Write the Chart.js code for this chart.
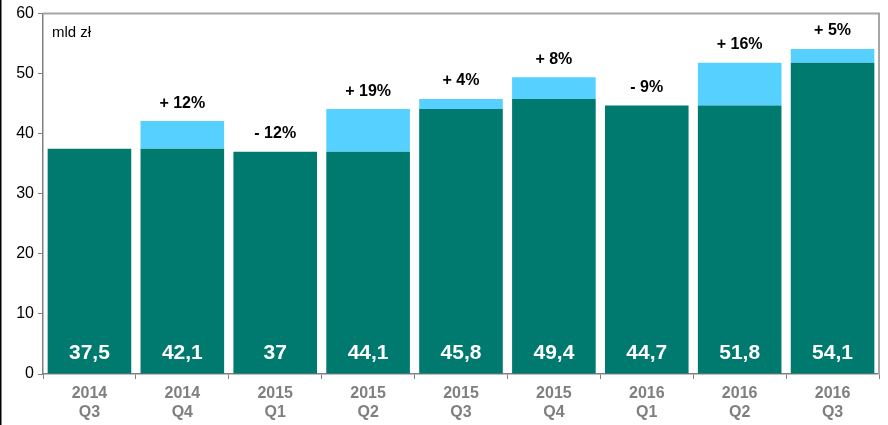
<!DOCTYPE html>
<html lang="pl">
<head>
  <meta charset="UTF-8">
  <title>mld zł</title>
  <script src="https://cdn.jsdelivr.net/npm/chart.js"></script>
  <style>
    body {
      margin: 0;
      background: #fff;
    }
    #wrap {
      width: 888px;
      height: 425px;
    }
  </style>
</head>
<body>
<div id="wrap"><canvas id="chart"></canvas></div>

<script>
  const labels = [['2014', 'Q3'], ['2014', 'Q4'], ['2015', 'Q1'], ['2015', 'Q2'], ['2015', 'Q3'],
                  ['2015', 'Q4'], ['2016', 'Q1'], ['2016', 'Q2'], ['2016', 'Q3']];
  const totals = [37.5, 42.1, 37, 44.1, 45.8, 49.4, 44.7, 51.8, 54.1];
  const changes = ['', '+ 12%', '- 12%', '+ 19%', '+ 4%', '+ 8%', '- 9%', '+ 16%', '+ 5%'];
  const yTicks = [0, 10, 20, 30, 40, 50, 60];

  // teal part = previous quarter (or current if it fell), blue part = growth
  const base = totals.map((v, i) => i === 0 ? v : Math.min(v, totals[i - 1]));
  const growth = totals.map((v, i) => +(v - base[i]).toFixed(1));

  const font = "'Liberation Sans', Arial, sans-serif";

  const labelPlugin = {
    id: 'labels',
    afterDatasetsDraw(chart) {
      const { ctx, chartArea, scales } = chart;
      const x = scales.x, y = scales.y;
      ctx.save();
      // frame
      ctx.strokeStyle = '#a6a6a6';
      ctx.lineWidth = 2;
      ctx.beginPath();
      ctx.moveTo(chartArea.left, chartArea.top);
      ctx.lineTo(chartArea.right, chartArea.top);
      ctx.lineTo(chartArea.right, chartArea.bottom);
      ctx.stroke();

      // dark edge on the left of the picture
      ctx.fillStyle = '#000';
      ctx.fillRect(0, 0, 1.5, chart.height);

      ctx.font = '15px ' + font;
      ctx.textAlign = 'left';
      ctx.textBaseline = 'middle';
      ctx.fillText('mld zł', chartArea.left + 9, 33);

      ctx.textAlign = 'center';
      totals.forEach((v, i) => {
        const cx = x.getPixelForValue(i);
        ctx.fillStyle = '#fff';
        ctx.font = 'bold 21px ' + font;
        ctx.fillText(String(v).replace('.', ','), cx, y.getPixelForValue(0) - 21);
        if (changes[i]) {
          ctx.fillStyle = '#000';
          ctx.font = 'bold 16px ' + font;
          ctx.fillText(changes[i], cx, y.getPixelForValue(v) - 18);
        }
      });
      ctx.restore();
    }
  };

  new Chart(document.getElementById('chart'), {
    type: 'bar',
    data: {
      labels: labels,
      datasets: [
        { data: base, backgroundColor: '#00796e', barPercentage: 0.9, categoryPercentage: 1 },
        { data: growth, backgroundColor: '#55d0ff', barPercentage: 0.9, categoryPercentage: 1 }
      ]
    },
    options: {
      responsive: true,
      maintainAspectRatio: false,
      animation: false,
      layout: { padding: { top: 13, right: 9, left: 0, bottom: 0 } },
      plugins: {
        legend: { display: false },
        tooltip: { enabled: false }
      },
      scales: {
        x: {
          stacked: true,
          afterFit: s => { s.height = 51; },
          grid: {
            offset: true,
            drawOnChartArea: false,
            color: '#808080',
            tickLength: 5
          },
          border: { color: '#808080', width: 1.5 },
          ticks: {
            color: '#7f7f7f',
            font: { family: font, size: 16, weight: 'bold', lineHeight: 1.2 },
            padding: 5
          }
        },
        y: {
          stacked: true,
          min: 0,
          max: 60,
          afterFit: s => { s.width = 43; },
          afterBuildTicks: s => { s.ticks = yTicks.map(v => ({ value: v })); },
          grid: {
            drawOnChartArea: false,
            color: '#808080',
            tickLength: 5
          },
          border: { color: '#808080', width: 1.5 },
          ticks: {
            color: '#000',
            font: { family: font, size: 16 },
            padding: 4
          }
        }
      }
    },
    plugins: [labelPlugin]
  });
</script>
</body>
</html>
